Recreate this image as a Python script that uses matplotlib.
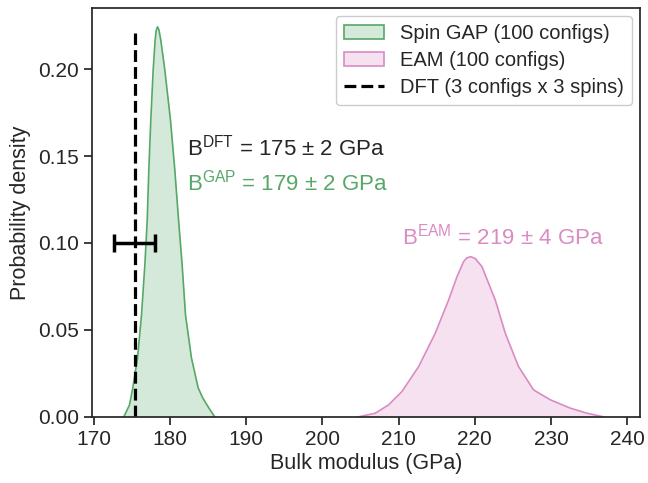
import matplotlib
matplotlib.use("Agg")
import matplotlib.pyplot as plt
from matplotlib.patches import Patch
from matplotlib.lines import Line2D
from matplotlib.colors import to_rgba

plt.rcParams['font.family'] = ['Liberation Sans', 'DejaVu Sans']
plt.rcParams['mathtext.fontset'] = 'custom'
plt.rcParams['mathtext.rm'] = 'Liberation Sans'

# density curves (bulk modulus in GPa, probability density)
gap_x = [173.97, 174.72, 175.15, 175.77, 176.29, 176.73, 177.04, 177.25, 177.51, 177.82, 178.08, 178.22,
         178.39, 178.58, 178.82, 179.35, 180.09, 180.66, 181.10, 181.62, 182.06, 182.84, 183.72, 184.32,
         185.11, 185.90]
gap_y = [0.0, 0.0069, 0.0167, 0.0339, 0.0586, 0.0874, 0.1132, 0.142, 0.1707, 0.1994, 0.2167, 0.2222,
         0.2243, 0.2225, 0.2167, 0.1994, 0.1707, 0.142, 0.1161, 0.0874, 0.0586, 0.0339, 0.0167, 0.0109,
         0.0052, 0.0]

eam_x = [204.77, 206.96, 208.70, 210.46, 212.64, 214.82, 216.57, 217.67, 218.54, 218.95, 219.45,
         220.05, 220.94, 222.69, 224.00, 225.74, 227.71, 229.90, 232.52, 234.70, 236.88]
eam_y = [0.0, 0.0021, 0.0069, 0.0146, 0.0289, 0.0481, 0.0672, 0.0806, 0.0893, 0.0914, 0.0921,
         0.0911, 0.0864, 0.0672, 0.0481, 0.0289, 0.0155, 0.0098, 0.005, 0.0021, 0.0]

# DFT reference value and spread
dft_mean = 175.4
dft_err = 2.7
dft_line_top = 0.221
errbar_y = 0.10

green = '#55a868'
pink = '#da8bc3'
dark = '#262626'

fig = plt.figure(figsize=(6.48, 4.83), dpi=100)
ax = fig.add_axes([0.142, 0.137, 0.846, 0.846])

ax.fill_between(gap_x, gap_y, color=green, alpha=0.25, lw=0)
ax.plot(gap_x, gap_y, color=green, lw=1.2)
ax.fill_between(eam_x, eam_y, color=pink, alpha=0.25, lw=0)
ax.plot(eam_x, eam_y, color=pink, lw=1.2)

ax.plot([dft_mean, dft_mean], [0, dft_line_top], color='black', ls='--', lw=2.3)
ax.errorbar([dft_mean], [errbar_y], xerr=[dft_err], color='black', elinewidth=2.5,
            capsize=6.5, capthick=2.5)

ax.text(182.3, 0.1546, 'B$^{\\mathrm{DFT}}$ = 175 ± 2 GPa', color=dark, fontsize=16, va='center')
ax.text(182.3, 0.1345, 'B$^{\\mathrm{GAP}}$ = 179 ± 2 GPa', color=green, fontsize=16, va='center')
ax.text(210.5, 0.1034, 'B$^{\\mathrm{EAM}}$ = 219 ± 4 GPa', color=pink, fontsize=16, va='center')

ax.set_xlim(169.8, 241.7)
ax.set_ylim(0, 0.235)
ax.set_xticks(range(170, 241, 10))
ax.set_yticks([0.0, 0.05, 0.10, 0.15, 0.20])
ax.set_yticklabels(['0.00', '0.05', '0.10', '0.15', '0.20'])
ax.set_xlabel('Bulk modulus (GPa)', fontsize=15.5, color=dark, labelpad=3)
ax.set_ylabel('Probability density', fontsize=15.5, color=dark, labelpad=5)
ax.tick_params(direction='out', length=6, width=1.25, labelsize=15, colors=dark)
for s in ax.spines.values():
    s.set_linewidth(1.25)
    s.set_color(dark)

handles = [
    Patch(facecolor=to_rgba(green, 0.25), edgecolor=green, lw=1.2),
    Patch(facecolor=to_rgba(pink, 0.25), edgecolor=pink, lw=1.2),
    Line2D([0], [0], color='black', ls='--', lw=2.3),
]
leg = ax.legend(handles, ['Spin GAP (100 configs)', 'EAM (100 configs)', 'DFT (3 configs x 3 spins)'],
                loc='upper right', fontsize=14.5, framealpha=1, edgecolor='#cccccc',
                borderaxespad=0.4, labelspacing=0.4)
for t in leg.get_texts():
    t.set_color(dark)

fig.savefig('out.png', dpi=100)
